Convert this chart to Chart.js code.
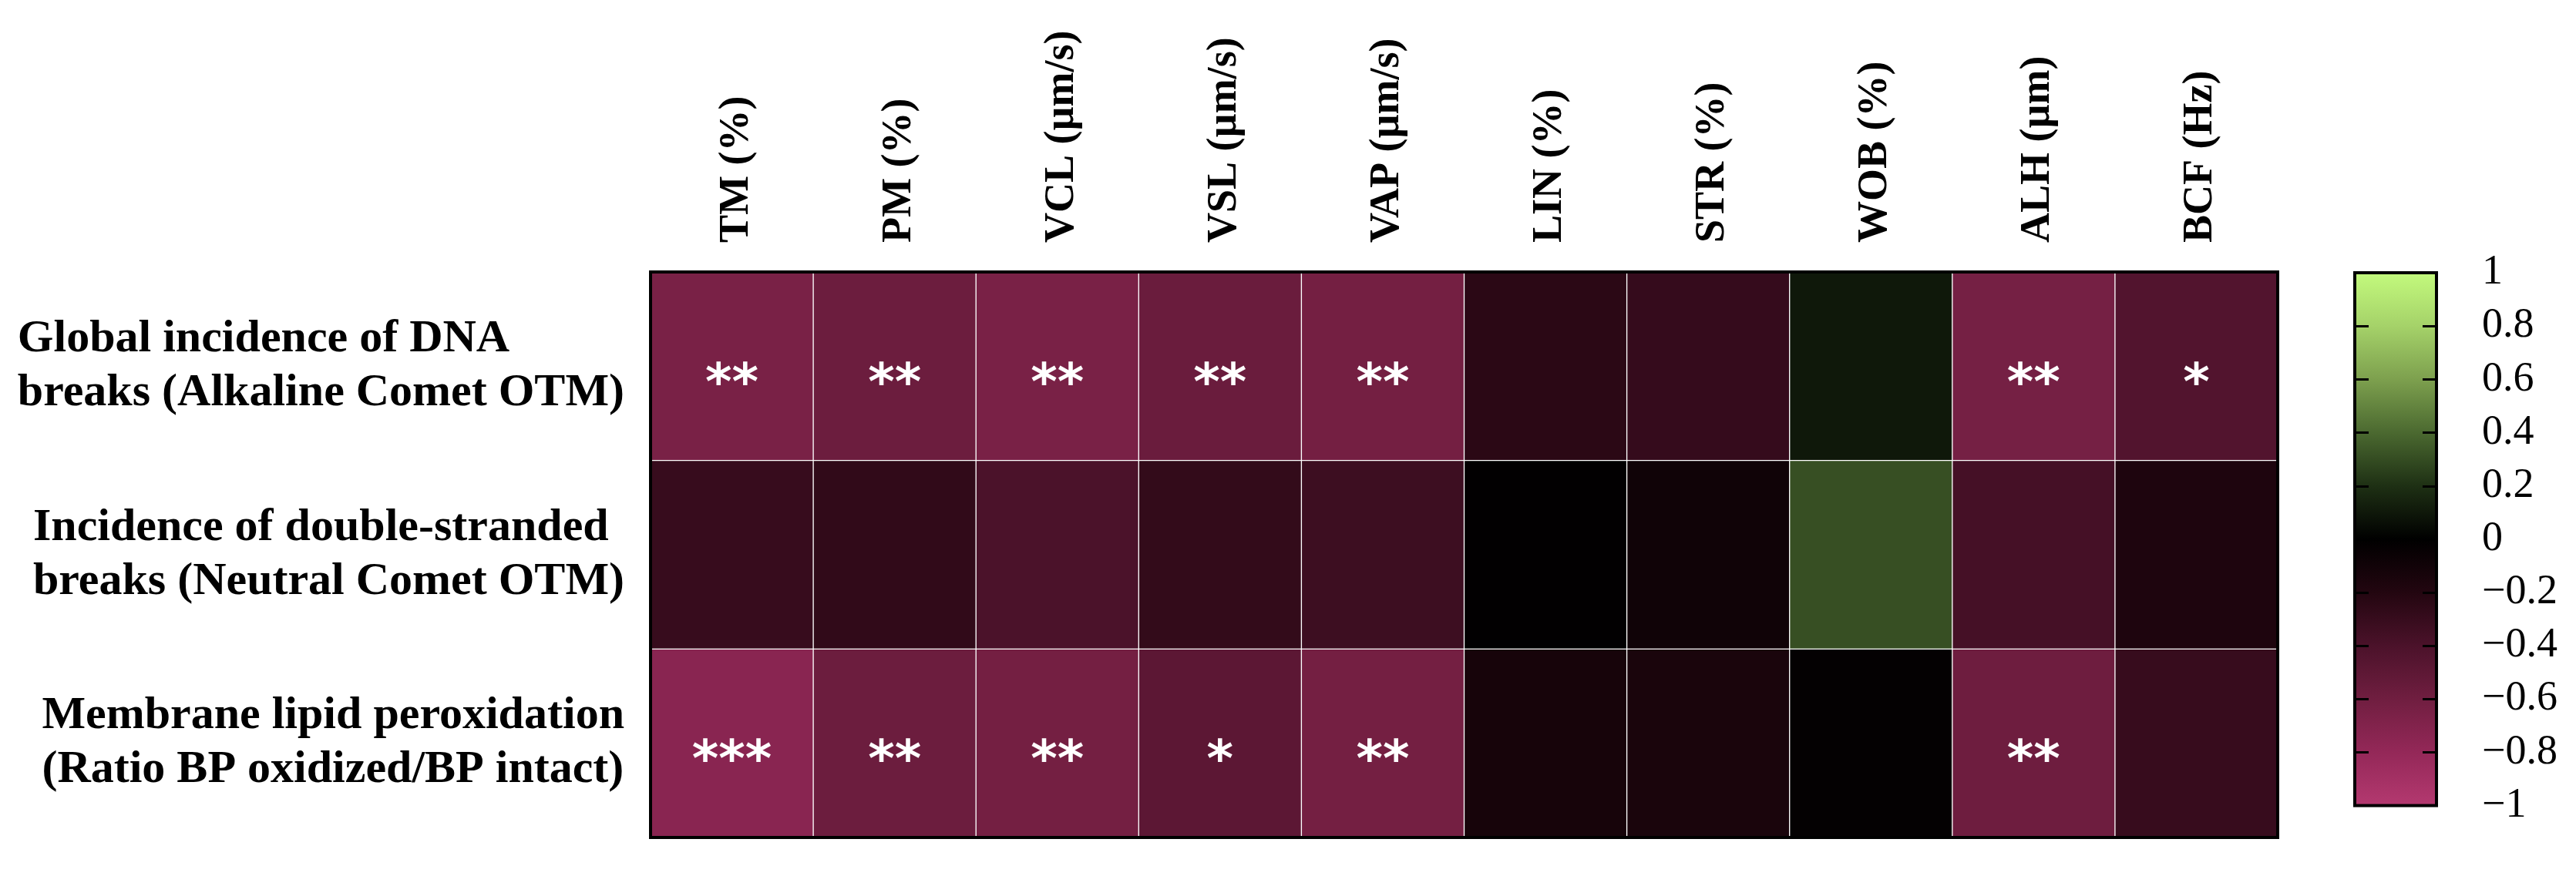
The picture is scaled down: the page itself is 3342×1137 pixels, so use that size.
<!DOCTYPE html>
<html><head><meta charset="utf-8">
<script src="https://cdn.jsdelivr.net/npm/chart.js@4.4.0/dist/chart.umd.min.js"></script>
<style>
html,body{margin:0;padding:0;background:#fff;}
#wrap{position:relative;width:3342px;height:1137px;background:#fff;}
</style></head><body>
<div id="wrap">
<div style="position:absolute;left:0;top:0;width:3000px;height:1137px"><canvas id="main"></canvas></div>
<div style="position:absolute;left:3000px;top:0;width:342px;height:1137px"><canvas id="cbar"></canvas></div>
</div>
<script>
// ---- data ----
const parameters = ['TM (%)','PM (%)','VCL (µm/s)','VSL (µm/s)','VAP (µm/s)','LIN (%)','STR (%)','WOB (%)','ALH (µm)','BCF (Hz)'];
const rowLabels = [
  ['Global incidence of DNA','breaks (Alkaline Comet OTM)'],
  ['Incidence of double-stranded','breaks (Neutral Comet OTM)'],
  ['Membrane lipid peroxidation','(Ratio BP oxidized/BP intact)']
];
const alkalineComet = [-0.65,-0.58,-0.65,-0.57,-0.62,-0.24,-0.29,0.10,-0.63,-0.44];
const neutralComet  = [-0.30,-0.27,-0.40,-0.28,-0.33,-0.01,-0.09,0.31,-0.37,-0.17];
const lipidPerox    = [-0.74,-0.58,-0.62,-0.49,-0.62,-0.13,-0.15,-0.02,-0.59,-0.30];
const alkalineSig = ['**','**','**','**','**','','','','**','*'];
const neutralSig  = ['','','','','','','','','',''];
const lipidSig    = ['***','**','**','*','**','','','','**',''];
const colorbarTicks = [-1,-0.8,-0.6,-0.4,-0.2,0,0.2,0.4,0.6,0.8,1];

// ---- colour map ----
const cmapStops = [-1,-0.8,-0.6,-0.4,-0.2,0,0.2,0.4,0.6,0.8,1];
const cmapRGB = [[180,57,112],[148,40,88],[112,30,64],[75,18,42],[35,6,16],[0,0,0],[30,48,20],[75,105,48],[125,160,78],[165,210,105],[195,250,125]];
function colorFor(v){
  v = Math.max(-1, Math.min(1, v));
  for (let i=0;i<cmapStops.length-1;i++){
    if (v <= cmapStops[i+1]){
      const t = (v - cmapStops[i])/(cmapStops[i+1]-cmapStops[i]);
      const a = cmapRGB[i], b = cmapRGB[i+1];
      return 'rgb('+a.map((c,k)=>Math.round(c+(b[k]-c)*t)).join(',')+')';
    }
  }
  return 'rgb('+cmapRGB[cmapRGB.length-1].join(',')+')';
}

const rows = [alkalineComet, neutralComet, lipidPerox];
const sigs = [alkalineSig, neutralSig, lipidSig];
const FONT = "'Liberation Serif', 'Times New Roman', serif";
const HEAD_SIZE = 54;

const datasets = rows.map((vals, r) => ({
  label: rowLabels[r].join(' '),
  data: vals.map(() => [r, r+1]),
  backgroundColor: vals.map(colorFor),
  borderColor: 'rgba(255,255,255,0.07)',
  borderWidth: 1,
  borderSkipped: false,
  barPercentage: 1,
  categoryPercentage: 1,
  grouped: false
}));

const heatPlugin = {
  id: 'heatExtras',
  afterDatasetsDraw(chart){
    const ctx = chart.ctx;
    const ys = chart.scales.y;
    const ca = chart.chartArea;
    // significance stars
    ctx.save();
    ctx.fillStyle = '#fff';
    ctx.font = "bold 66px 'DejaVu Sans', sans-serif";
    ctx.textAlign = 'center';
    ctx.textBaseline = 'alphabetic';
    chart.data.datasets.forEach((ds, r) => {
      const meta = chart.getDatasetMeta(r);
      meta.data.forEach((el, i) => {
        const s = sigs[r][i];
        if (!s) return;
        const c = el.getCenterPoint();
        const m = ctx.measureText(s);
        const h = m.actualBoundingBoxAscent + m.actualBoundingBoxDescent;
        const base = c.y + 9 + h/2 - m.actualBoundingBoxDescent;
        ctx.fillText(s, c.x, base);
      });
    });
    ctx.restore();
    // frame
    ctx.save();
    ctx.strokeStyle = '#000';
    ctx.lineWidth = 4;
    ctx.strokeRect(ca.left, ca.top, ca.right-ca.left, ca.bottom-ca.top);
    ctx.restore();
    // row labels (block right-aligned, lines left-aligned)
    ctx.save();
    ctx.fillStyle = '#000';
    ctx.font = 'bold 60px ' + FONT;
    ctx.textBaseline = 'middle';
    ctx.textAlign = 'left';
    const lh = 70;
    const rightEdge = ca.left - 34;
    rowLabels.forEach((lines, r) => {
      const cy = ys.getPixelForValue(r + 0.5);
      const w = Math.max(...lines.map(l => ctx.measureText(l).width));
      const x0 = rightEdge - w;
      lines.forEach((l, k) => {
        ctx.fillText(l, x0, cy + (k - (lines.length-1)/2) * lh);
      });
    });
    ctx.restore();
  }
};

new Chart(document.getElementById('main'), {
  type: 'bar',
  data: { labels: parameters, datasets },
  options: {
    responsive: true,
    maintainAspectRatio: false,
    animation: false,
    events: [],
    layout: { padding: { left: 844, right: 45, top: 0, bottom: 50 } },
    plugins: { legend: { display: false }, tooltip: { enabled: false } },
    scales: {
      x: {
        type: 'category',
        position: 'top',
        offset: true,
        grid: { display: false, drawTicks: false },
        border: { display: false },
        ticks: {
          color: '#000',
          font: { family: FONT, size: HEAD_SIZE, weight: 'bold' },
          minRotation: 90, maxRotation: 90,
          padding: 38,
          labelOffset: HEAD_SIZE * 1.2 + 6,
          autoSkip: false
        },
        afterFit(s){ s.height = 353; }
      },
      y: {
        type: 'linear',
        min: 0, max: 3,
        reverse: true,
        display: false
      }
    }
  },
  plugins: [heatPlugin]
});

// ---- colour bar ----
const cbarPlugin = {
  id: 'cbarExtras',
  afterDatasetsDraw(chart){
    const ctx = chart.ctx;
    const ca = chart.chartArea;
    const ys = chart.scales.y;
    ctx.save();
    ctx.strokeStyle = '#000';
    ctx.lineWidth = 3;
    colorbarTicks.forEach(v => {
      if (v === -1 || v === 1) return;
      const y = Math.round(ys.getPixelForValue(v)) + 0.5;
      ctx.beginPath();
      ctx.moveTo(ca.left, y); ctx.lineTo(ca.left + 18, y);
      ctx.moveTo(ca.right - 18, y); ctx.lineTo(ca.right, y);
      ctx.stroke();
    });
    ctx.lineWidth = 4;
    ctx.strokeRect(ca.left, ca.top, ca.right-ca.left, ca.bottom-ca.top);
    ctx.restore();
  }
};

new Chart(document.getElementById('cbar'), {
  type: 'bar',
  data: {
    labels: ['scale'],
    datasets: [{
      data: [[-1, 1]],
      barPercentage: 1,
      categoryPercentage: 1,
      borderWidth: 0,
      backgroundColor(c){
        const chart = c.chart;
        const ca = chart.chartArea;
        if (!ca) return '#000';
        const ys = chart.scales.y;
        const y0 = ys.getPixelForValue(-1), y1 = ys.getPixelForValue(1);
        const g = chart.ctx.createLinearGradient(0, y0, 0, y1);
        cmapStops.forEach(v => g.addColorStop((v + 1) / 2, colorFor(v)));
        return g;
      }
    }]
  },
  options: {
    responsive: true,
    maintainAspectRatio: false,
    animation: false,
    events: [],
    layout: { padding: { left: 55, right: 0, top: 354, bottom: 50 } },
    plugins: { legend: { display: false }, tooltip: { enabled: false } },
    scales: {
      x: { type: 'category', display: false, offset: true },
      y: {
        type: 'linear',
        position: 'right',
        min: -1, max: 1,
        grid: { display: false, drawTicks: false },
        border: { display: false },
        afterBuildTicks(s){ s.ticks = colorbarTicks.map(v => ({ value: v })); },
        afterFit(s){ s.width = 181; },
        ticks: {
          color: '#000',
          autoSkip: false,
          padding: 59,
          font: { family: FONT, size: 54 },
          callback(v){ return v < 0 ? '\u2212' + Math.abs(v) : String(v); }
        }
      }
    }
  },
  plugins: [cbarPlugin]
});
</script>
</body></html>
